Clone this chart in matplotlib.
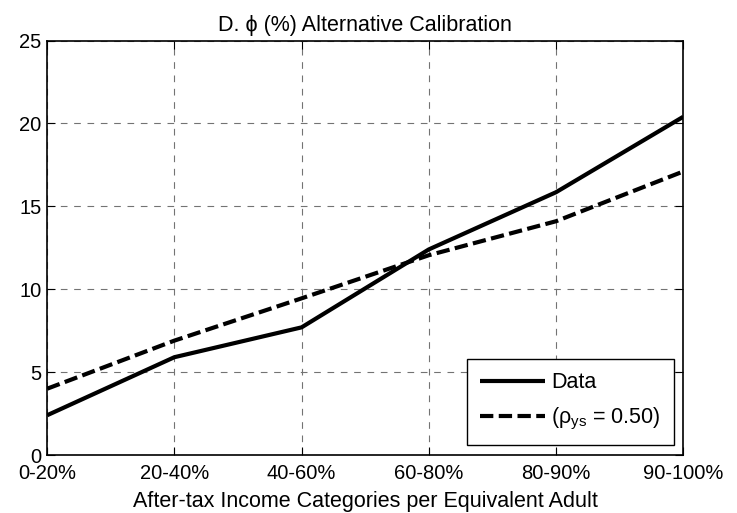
import matplotlib
matplotlib.use("Agg")
import matplotlib.pyplot as plt

plt.rcParams['font.family'] = ['Liberation Sans', 'DejaVu Sans']
plt.rcParams['mathtext.default'] = 'regular'

# income categories and the two phi series (%)
categories = ["0-20%", "20-40%", "40-60%", "60-80%", "80-90%", "90-100%"]
data_vals = [2.4, 5.9, 7.7, 12.4, 15.85, 20.4]
model_vals = [4.0, 6.9, 9.45, 12.05, 14.1, 17.1]
yticks = [0, 5, 10, 15, 20, 25]

fig = plt.figure(figsize=(7.37, 5.13), dpi=100)
ax = fig.add_axes([0.064, 0.113, 0.863, 0.808])

x = list(range(1, len(categories) + 1))
ax.plot(x, data_vals, color='black', lw=3, solid_capstyle='butt', label='Data')
ax.plot(x, model_vals, color='black', lw=3, dashes=(3.2, 1.3),
        dash_capstyle='butt', label=r'($\rho_{ys}$ = 0.50)')

ax.set_xlim(1, 6)
ax.set_ylim(0, 25)
ax.set_xticks(x)
ax.set_xticklabels(categories)
ax.set_yticks(yticks)
ax.tick_params(direction='in', length=6, width=0.8, top=True, right=True,
               labelsize=14.5, pad=4)
ax.tick_params(axis='x', pad=6.5)
for s in ax.spines.values():
    s.set_linewidth(1.2)
ax.grid(True, color='0.45', lw=0.8, dashes=(6, 6))

ax.set_title("D. \u03d5 (%) Alternative Calibration", fontsize=15.5, pad=7)
ax.set_xlabel("After-tax Income Categories per Equivalent Adult", fontsize=15.5, labelpad=6)

leg = ax.legend(loc='lower right', fontsize=15.5, frameon=True, fancybox=False,
                edgecolor='black', framealpha=1, handlelength=3.0,
                borderaxespad=0.45, labelspacing=0.6, handletextpad=0.3,
                borderpad=0.6)
leg.get_frame().set_linewidth(1.0)

fig.savefig("out.png", dpi=100)
